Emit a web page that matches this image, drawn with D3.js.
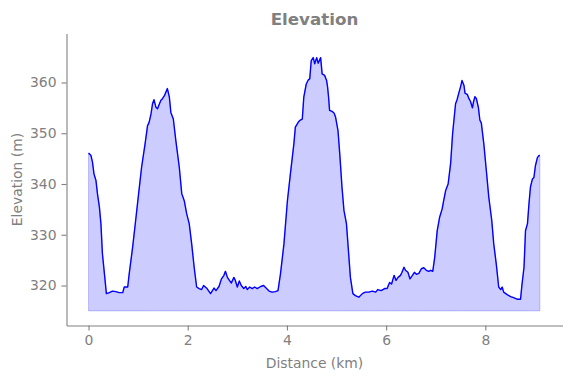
<!DOCTYPE html>
<html>
<head>
<meta charset="utf-8">
<script src="https://cdn.jsdelivr.net/npm/d3@7"></script>
<style>
  body { margin: 0; background: #fff; }
  svg text { font-family: 'DejaVu Sans', sans-serif; fill: gray; }
</style>
</head>
<body>
<svg></svg>
<script>
const titleText = 'Elevation';
const xLabel = 'Distance (km)';
const yLabel = 'Elevation (m)';
const xTicks = [0, 2, 4, 6, 8];
const yTicks = [320, 330, 340, 350, 360];
const baseElev = 315;

// distance (km) and elevation (m)
const distKm = [
	0.00, 0.05, 0.08, 0.11, 0.15, 0.18, 0.22, 0.25, 0.28, 0.32, 0.36, 0.42, 0.48, 0.55, 0.62, 0.69,
	0.72, 0.79, 0.82, 0.89, 0.95, 1.01, 1.07, 1.14, 1.19, 1.22, 1.26, 1.29, 1.32, 1.36, 1.39, 1.43,
	1.46, 1.49, 1.53, 1.56, 1.59, 1.63, 1.66, 1.71, 1.76, 1.83, 1.88, 1.93, 1.98, 2.03, 2.08, 2.13,
	2.18, 2.23, 2.28, 2.32, 2.39, 2.46, 2.53, 2.57, 2.63, 2.68, 2.73, 2.76, 2.80, 2.84, 2.88, 2.93,
	2.96, 3.00, 3.04, 3.08, 3.13, 3.17, 3.20, 3.25, 3.30, 3.35, 3.40, 3.47, 3.53, 3.58, 3.64, 3.70,
	3.77, 3.82, 3.87, 3.94, 4.01, 4.07, 4.14, 4.17, 4.23, 4.27, 4.31, 4.34, 4.39, 4.43, 4.46, 4.49,
	4.53, 4.56, 4.60, 4.63, 4.68, 4.71, 4.76, 4.80, 4.82, 4.84, 4.86, 4.91, 4.95, 4.98, 5.03, 5.07,
	5.11, 5.15, 5.20, 5.24, 5.28, 5.33, 5.38, 5.45, 5.52, 5.58, 5.65, 5.72, 5.79, 5.83, 5.90, 5.97,
	6.02, 6.07, 6.11, 6.16, 6.20, 6.24, 6.29, 6.32, 6.36, 6.39, 6.44, 6.48, 6.53, 6.57, 6.61, 6.66,
	6.71, 6.76, 6.81, 6.86, 6.90, 6.94, 6.98, 7.03, 7.08, 7.13, 7.16, 7.20, 7.25, 7.30, 7.34, 7.40,
	7.43, 7.47, 7.50, 7.53, 7.57, 7.59, 7.64, 7.67, 7.70, 7.74, 7.76, 7.79, 7.82, 7.86, 7.89, 7.92,
	7.97, 8.02, 8.07, 8.13, 8.17, 8.22, 8.27, 8.31, 8.34, 8.37, 8.44, 8.51, 8.57, 8.64, 8.71, 8.74,
	8.78, 8.81, 8.85, 8.88, 8.91, 8.95, 8.98, 9.01, 9.05, 9.08, 9.10
];
const elevM = [
	346.1, 345.6, 344.3, 342.0, 340.7, 338.1, 335.4, 332.2, 326.3, 322.4, 318.4, 318.6, 318.9, 318.8, 318.6, 318.6,
	319.7, 319.7, 322.3, 327.6, 332.8, 338.1, 343.3, 347.9, 351.5, 352.1, 353.8, 355.8, 356.6, 355.1, 354.8, 355.8,
	356.5, 356.8, 357.4, 358.1, 358.8, 357.1, 354.1, 352.8, 348.6, 343.3, 338.1, 336.7, 334.1, 332.2, 328.2, 323.6,
	319.7, 319.4, 319.2, 320.0, 319.4, 318.4, 319.5, 319.0, 319.8, 321.3, 322.0, 322.8, 321.6, 321.0, 320.5, 321.6,
	321.0, 319.7, 320.9, 320.0, 319.4, 319.8, 319.2, 319.7, 319.4, 319.7, 319.4, 319.8, 320.0, 319.5, 318.9, 318.7,
	318.8, 319.0, 322.3, 328.2, 336.7, 342.0, 347.9, 351.2, 352.2, 352.6, 352.8, 357.1, 359.7, 360.5, 360.7, 364.3,
	364.9, 363.7, 364.9, 363.8, 364.9, 361.7, 361.4, 360.4, 359.1, 357.1, 354.5, 354.3, 354.0, 353.2, 350.5, 345.3,
	339.4, 334.8, 332.2, 326.9, 321.6, 318.4, 318.0, 317.7, 318.4, 318.7, 318.7, 318.9, 318.7, 319.2, 319.0, 319.4,
	319.4, 320.6, 320.3, 322.0, 321.0, 321.6, 322.0, 322.6, 323.6, 323.0, 322.6, 321.3, 322.0, 322.6, 322.2, 322.4,
	323.3, 323.5, 323.0, 322.8, 323.0, 322.8, 325.6, 330.8, 333.5, 335.1, 336.7, 338.7, 340.0, 344.0, 349.9, 355.8,
	356.6, 358.1, 359.1, 360.4, 359.4, 357.9, 357.6, 356.8, 356.3, 355.0, 356.1, 357.2, 356.8, 355.1, 352.6, 352.0,
	347.9, 342.7, 337.4, 332.8, 328.2, 324.3, 319.7, 319.2, 319.7, 318.7, 318.2, 317.8, 317.6, 317.3, 317.3, 320.3,
	323.6, 330.8, 332.2, 336.1, 339.4, 341.0, 341.3, 343.6, 345.2, 345.6, 345.6
];

const svg = d3.select('svg')
	.attr('width', 571)
	.attr('height', 378);

const width = +svg.attr('width'),
	height = +svg.attr('height');

const margin = { top: 33, right: 9, bottom: 53, left: 66 },
	innerWidth = width - margin.left - margin.right,
	innerHeight = height - margin.top - margin.bottom;

const data = distKm.map((d, i) => ({ dist: d, elev: elevM[i] }));

const xScale = d3.scaleLinear()
	.domain([-0.444, 9.556])
	.range([0, innerWidth]);

const yScale = d3.scaleLinear()
	.domain([312.12, 369.65])
	.range([innerHeight, 0]);

const g = svg.append('g')
	.attr('transform', `translate(${margin.left + 0.5}, ${margin.top + 0.5})`);

// filled profile
const areaGenerator = d3.area()
	.x(d => xScale(d.dist))
	.y0(yScale(baseElev))
	.y1(d => yScale(d.elev));

g.append('path')
	.attr('d', areaGenerator(data))
	.attr('fill', 'rgba(0,0,255,0.2)')
	.attr('stroke', 'rgba(0,0,255,0.2)')
	.attr('stroke-width', 1);

const lineGenerator = d3.line()
	.x(d => xScale(d.dist))
	.y(d => yScale(d.elev));

g.append('path')
	.attr('d', lineGenerator(data))
	.attr('fill', 'none')
	.attr('stroke', 'blue')
	.attr('stroke-width', 1.4)
	.attr('stroke-linejoin', 'round');

// axes
const xAxis = d3.axisBottom(xScale)
	.tickValues(xTicks)
	.tickSizeInner(5)
	.tickSizeOuter(0)
	.tickPadding(5);

const yAxis = d3.axisLeft(yScale)
	.tickValues(yTicks)
	.tickSizeInner(5)
	.tickSizeOuter(0)
	.tickPadding(5);

const xAxisG = g.append('g')
	.attr('transform', `translate(0, ${innerHeight})`)
	.call(xAxis);

const yAxisG = g.append('g').call(yAxis);

[xAxisG, yAxisG].forEach(a => {
	a.selectAll('.domain, line').attr('stroke', 'gray').attr('stroke-width', 1.1);
	a.selectAll('text')
		.attr('fill', 'gray')
		.style('font-size', '13.9px')
		.style('font-family', 'DejaVu Sans, sans-serif');
});

g.append('text')
	.attr('x', innerWidth / 2)
	.attr('y', innerHeight + 42)
	.attr('text-anchor', 'middle')
	.style('font-size', '13.9px')
	.text(xLabel);

g.append('text')
	.attr('transform', 'rotate(-90)')
	.attr('x', -innerHeight / 2)
	.attr('y', -45)
	.attr('text-anchor', 'middle')
	.style('font-size', '13.9px')
	.text(yLabel);

g.append('text')
	.attr('x', innerWidth / 2)
	.attr('y', -8.5)
	.attr('text-anchor', 'middle')
	.style('font-size', '16.7px')
	.style('font-weight', 'bold')
	.text(titleText);
</script>
</body>
</html>
